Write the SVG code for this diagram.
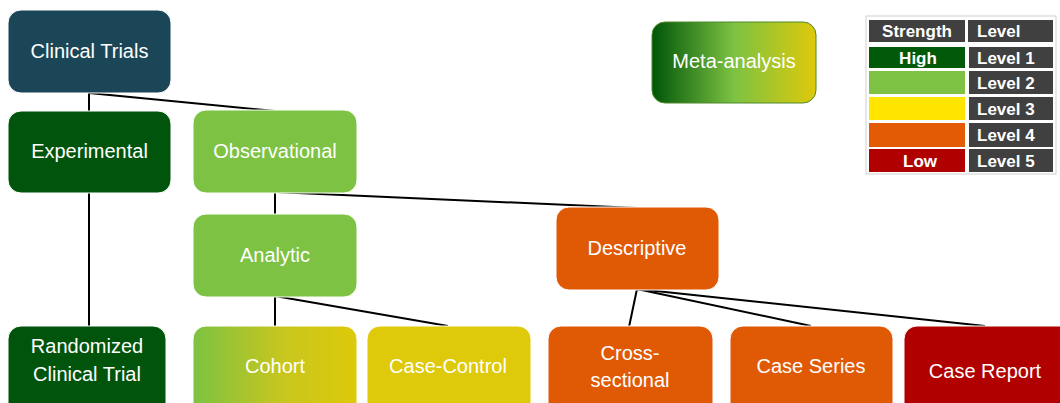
<svg xmlns="http://www.w3.org/2000/svg" width="1060" height="403" viewBox="0 0 1060 403">
<defs>
<linearGradient id="gMeta" x1="0" y1="0" x2="1" y2="0">
<stop offset="0" stop-color="#005509"/>
<stop offset="0.5" stop-color="#7DC242"/>
<stop offset="1" stop-color="#DEC90A"/>
</linearGradient>
<linearGradient id="gCohort" x1="0" y1="0" x2="1" y2="0">
<stop offset="0" stop-color="#7DC242"/>
<stop offset="0.55" stop-color="#C8C61E"/>
<stop offset="1" stop-color="#DEC90A"/>
</linearGradient>
</defs>
<style>
.n{stroke:#ffffff;stroke-width:1}
.t{font-family:"Liberation Sans",Arial,sans-serif;font-size:20px;fill:#ffffff;text-anchor:middle}
.c{stroke:#000000;stroke-width:2;fill:none}
.tb{font-family:"Liberation Sans",Arial,sans-serif;font-size:17px;font-weight:bold;fill:#ffffff}
.g{fill:#404040}
</style>
<rect width="1060" height="403" fill="#ffffff"/>
<g id="connectors">
<line class="c" x1="89" y1="93" x2="89" y2="112"/>
<line class="c" x1="89" y1="93" x2="275" y2="111"/>
<line class="c" x1="89" y1="193" x2="89" y2="327"/>
<line class="c" x1="275" y1="192" x2="275" y2="215"/>
<line class="c" x1="275" y1="192" x2="637" y2="208"/>
<line class="c" x1="275" y1="296" x2="275" y2="327"/>
<line class="c" x1="275" y1="296" x2="448" y2="326"/>
<line class="c" x1="637" y1="289" x2="629" y2="327"/>
<line class="c" x1="637" y1="289" x2="811" y2="326"/>
<line class="c" x1="637" y1="289" x2="985" y2="326"/>
</g>
<g id="clinical-trials">
<rect class="n" x="8" y="10" width="163" height="83" rx="13" fill="#1B4657"/>
<text class="t" x="89.5" y="58">Clinical Trials</text>
</g>
<g id="experimental">
<rect class="n" x="8" y="111" width="163" height="82" rx="13" fill="#01540B"/>
<text class="t" x="89.5" y="158">Experimental</text>
</g>
<g id="observational">
<rect class="n" x="193" y="110" width="164" height="83" rx="13" fill="#7DC242"/>
<text class="t" x="275" y="158">Observational</text>
</g>
<g id="analytic">
<rect class="n" x="193" y="214" width="164" height="83" rx="13" fill="#7DC242"/>
<text class="t" x="275" y="262">Analytic</text>
</g>
<g id="descriptive">
<rect class="n" x="556" y="207" width="163" height="83" rx="13" fill="#E05A06"/>
<text class="t" x="637" y="255">Descriptive</text>
</g>
<g id="randomized">
<rect class="n" x="8" y="326" width="158" height="90" rx="13" fill="#01540B"/>
<text class="t" x="87" y="353">Randomized</text>
<text class="t" x="87" y="381">Clinical Trial</text>
</g>
<g id="cohort">
<rect class="n" x="193" y="326" width="164" height="90" rx="13" fill="url(#gCohort)"/>
<text class="t" x="275" y="373">Cohort</text>
</g>
<g id="case-control">
<rect class="n" x="367" y="326" width="164" height="90" rx="13" fill="#DEC90A"/>
<text class="t" x="448" y="373">Case-Control</text>
</g>
<g id="cross-sectional">
<rect class="n" x="548" y="326" width="165" height="90" rx="13" fill="#E05A06"/>
<text class="t" x="630" y="360">Cross-</text>
<text class="t" x="630" y="387">sectional</text>
</g>
<g id="case-series">
<rect class="n" x="730" y="326" width="163" height="90" rx="13" fill="#E05A06"/>
<text class="t" x="811" y="373">Case Series</text>
</g>
<g id="case-report">
<rect class="n" x="904" y="326" width="170" height="90" rx="13" fill="#B00000"/>
<text class="t" x="985" y="378">Case Report</text>
</g>
<g id="meta-analysis">
<rect x="652" y="22" width="164" height="81" rx="13" fill="url(#gMeta)" stroke="#4E8A2A" stroke-width="1"/>
<text class="t" x="734" y="68">Meta-analysis</text>
</g>
<g id="legend">
<rect x="866" y="16" width="190" height="158" fill="#ffffff" stroke="#d0d0d0" stroke-width="1"/>
<rect class="g" x="869" y="20" width="96" height="22"/>
<rect class="g" x="968" y="20" width="85" height="22"/>
<rect x="869" y="47" width="96" height="21" fill="#005A0A"/>
<rect x="869" y="71" width="96" height="23" fill="#7DC242"/>
<rect x="869" y="97" width="96" height="23" fill="#FFE500"/>
<rect x="869" y="123" width="96" height="24" fill="#E35B05"/>
<rect x="869" y="149" width="96" height="23" fill="#B00000"/>
<rect class="g" x="969" y="47" width="84" height="21"/>
<rect class="g" x="969" y="71" width="84" height="23"/>
<rect class="g" x="969" y="97" width="84" height="23"/>
<rect class="g" x="969" y="123" width="84" height="24"/>
<rect class="g" x="969" y="149" width="84" height="23"/>
<text class="tb" x="917" y="37" text-anchor="middle">Strength</text>
<text class="tb" x="977" y="37">Level</text>
<text class="tb" x="918" y="64" text-anchor="middle">High</text>
<text class="tb" x="920" y="167" text-anchor="middle">Low</text>
<text class="tb" x="977" y="64">Level 1</text>
<text class="tb" x="977" y="89">Level 2</text>
<text class="tb" x="977" y="115">Level 3</text>
<text class="tb" x="977" y="141">Level 4</text>
<text class="tb" x="977" y="167">Level 5</text>
</g>
</svg>
